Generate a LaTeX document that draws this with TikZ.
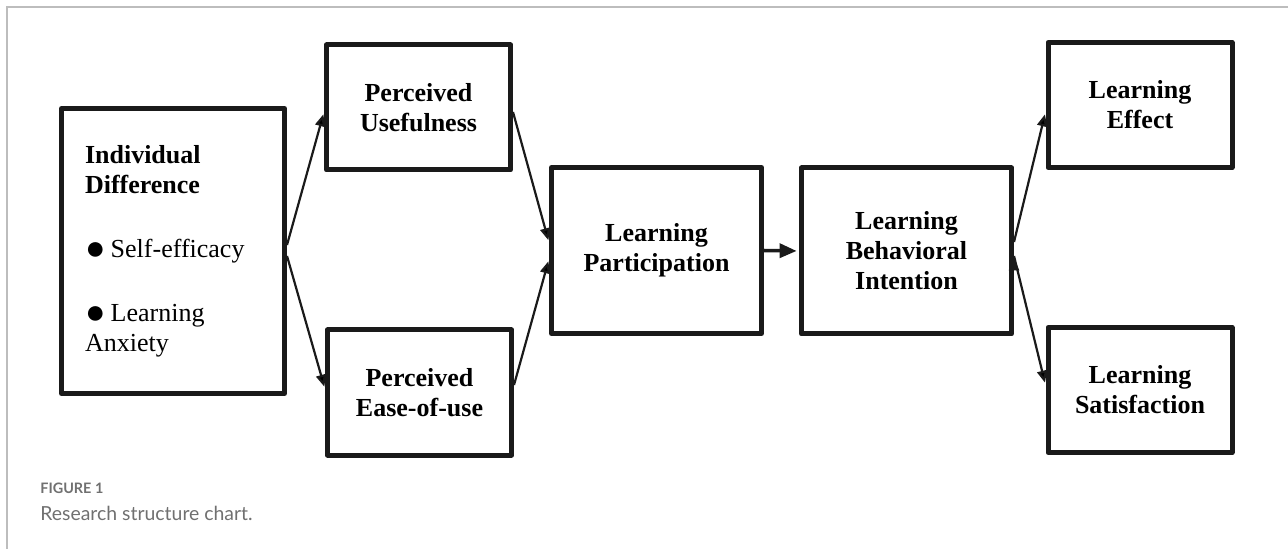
\documentclass[tikz,border=0pt]{standalone}
\usepackage{fontspec}
\setmainfont{Liberation Serif}
\newfontfamily\capfont{Lato}
\usetikzlibrary{arrows.meta, positioning}

\definecolor{boxline}{HTML}{1A1A1A}
\definecolor{framegray}{HTML}{BDBDBD}
\definecolor{capgray}{HTML}{707070}

\newcommand{\bigdot}{{\fontsize{17}{15}\selectfont\raisebox{-1.2pt}{●}}\hspace{2.6pt}}

\begin{document}
\begin{tikzpicture}[x=0.5pt, y=-0.5pt,
    block/.style = {draw=boxline, line width=2.5pt, line join=round, align=center,
      font=\fontsize{13}{15}\selectfont\bfseries, inner sep=2pt,
      minimum width=92pt, minimum height=62.5pt},
    bigblock/.style = {block, minimum width=105pt, minimum height=83pt},
    link/.style = {-{Triangle[length=6pt, width=5pt]}, line width=1.1pt, draw=boxline,
      shorten >=1.2pt},
    caption/.style = {anchor=base west, inner sep=0pt, text=capgray}]
  \useasboundingbox (0,0) rectangle (1288,549);
  \draw [framegray, line width=0.9pt] (7,549) -- (7,7) -- (1288,7);

  \node (diff) [block, font=\fontsize{13}{15}\selectfont, align=left,
    text width=88pt, inner xsep=11.75pt, minimum height=142.5pt] at (173,251)
    {\textbf{Individual}\\ \textbf{Difference}\\[17pt] \bigdot Self-efficacy\\[17pt]
     \bigdot Learning\\ Anxiety};
  \node (useful) [block] at (418.5,107.5) {Perceived\\ Usefulness};
  \node (ease) [block] at (419.5,392.5) {Perceived\\ Ease-of-use};
  \node (partic) [bigblock] at (656.5,250.5) {Learning\\ Participation};
  \node (intent) [bigblock] at (906.5,251) {Learning\\ Behavioral\\ Intention};
  \node (effect) [block] at (1140,105) {Learning\\ Effect};
  \node (satis) [block] at (1140,390) {Learning\\ Satisfaction};

  \path [link]
    ([yshift=3pt]diff.east) edge ([yshift=-2.25pt]useful.west)
    ([yshift=-2.5pt]diff.east) edge ([yshift=1.75pt]ease.west)
    ([yshift=-2.25pt]useful.east) edge ([yshift=4pt]partic.west)
    ([yshift=3.75pt]ease.east) edge ([yshift=-4.25pt]partic.west)
    ([yshift=4.5pt]intent.east) edge ([yshift=-3.5pt]effect.west)
    ([yshift=-2.5pt]intent.east) edge ([yshift=2.5pt]satis.west);
  \draw [-{Triangle[length=8.5pt, width=7pt]}, line width=1.75pt, draw=boxline,
    shorten >=1.2pt] (partic.east) -- (intent.west);

  \node (fignum) [caption, font=\capfont\bfseries\fontsize{7.2}{9}\selectfont]
    at (40,493) {FIGURE 1};
  \node (figtext) [caption, font=\capfont\fontsize{9.7}{11}\selectfont]
    at (40,520) {Research structure chart.};
\end{tikzpicture}
\end{document}
